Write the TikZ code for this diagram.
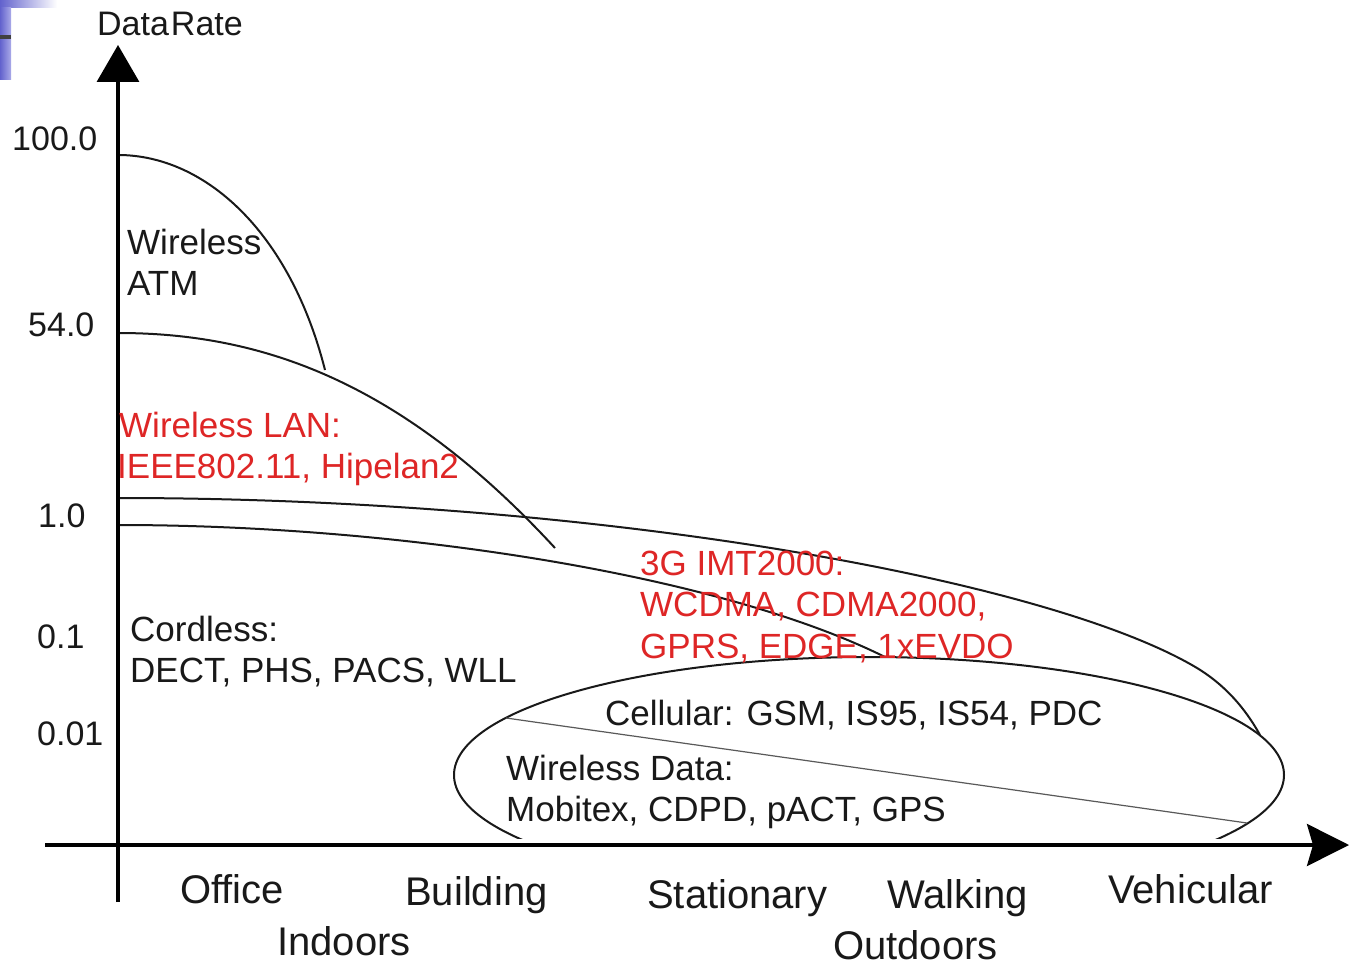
\documentclass[tikz,border=0pt]{standalone}
\usepackage{fontspec}
\setmainfont{Liberation Sans}
\usetikzlibrary{arrows.meta,calc}
\definecolor{labred}{RGB}{222,38,38}
\definecolor{slideA}{RGB}{98,98,205}
\definecolor{slideB}{RGB}{170,170,232}
\definecolor{ink}{RGB}{25,25,25}
\begin{document}
\begin{tikzpicture}[x=1pt,y=-1pt,
  lbl/.style={anchor=base west, inner sep=0pt, text=ink, font=\fontsize{35}{40}\selectfont},
  redlbl/.style={lbl, text=labred},
  ticklbl/.style={anchor=base west, inner sep=0pt, text=ink, font=\fontsize{34}{40}\selectfont},
  catlbl/.style={anchor=base west, inner sep=0pt, text=ink, font=\fontsize{40}{46}\selectfont},
  curve/.style={line width=2pt, draw=ink},
  thinline/.style={line width=1.2pt, draw=black!65},
  axis/.style={line width=3.4pt, draw=black}]
\useasboundingbox (0,0) rectangle (1349,965);
\fill[white] (0,0) rectangle (1349,965);
% slide decoration
\shade[left color=slideA, right color=white] (0,0) rectangle (57,8);
\shade[left color=slideA, right color=slideB] (0,8) rectangle (11,80);
\fill[black!75] (0,35) rectangle (11,39);
% coordinates
\coordinate (ybot) at (118,902);
\coordinate (ytop) at (118,45);
\coordinate (xl) at (45,845);
\coordinate (xr) at (1349,845);
\coordinate (ec) at (869,775);
\coordinate (atmS) at (118,155);
\coordinate (atmE) at (325,370);
\coordinate (lanS) at (118,333);
\coordinate (lanE) at (555,548);
\coordinate (hiS) at (118,498);
\coordinate (hiK) at (1197,668);
\coordinate (hiE) at (1260,735);
\coordinate (loS) at (118,525);
\coordinate (loE) at (885,657);
\coordinate (dA) at (506,718);
\coordinate (dB) at (1247,823);
% curves
\draw[curve] (atmS) .. controls (205,155) and (290,232) .. (atmE);
\draw[curve] (lanS) .. controls (260,333) and (400,380) .. (lanE);
\draw[curve] (hiS) .. controls (600,498) and (1050,580) .. (hiK)
  .. controls (1225,685) and (1245,708) .. (hiE);
\draw[curve] (loS) .. controls (400,525) and (720,575) .. (loE);
\begin{scope}
  \clip (0,0) rectangle (1349,838);
  \draw[curve] (ec) ellipse [x radius=415, y radius=118];
\end{scope}
\draw[thinline] (dA) -- (dB);
% axes
\draw[axis, -{Triangle[length=37pt,width=42pt]}] (ybot) -- (ytop);
\draw[axis, -{Stealth[length=42pt,width=42pt,inset=6pt]}] (xl) -- (xr);
% labels
\node[ticklbl] (ylab) at (97,36) {Data\kern2pt Rate};
\node[ticklbl] (t100) at (12,151) {100.0};
\node[ticklbl] (t54) at (28,337) {54.0};
\node[ticklbl] (t1) at (38,527) {1.0};
\node[ticklbl] (t01) at (37,648) {0.1};
\node[ticklbl] (t001) at (37,745) {0.01};
\node[lbl] (atm1) at (127,255) {Wireless};
\node[lbl] (atm2) at (127,296) {ATM};
\node[redlbl] (lan1) at (119,437) {Wireless LAN:};
\node[redlbl] (lan2) at (117,478) {IEEE802.11, Hipelan2};
\node[lbl] (cl1) at (130,641) {Cordless:};
\node[lbl] (cl2) at (130,682) {DECT, PHS, PACS, WLL};
\node[redlbl] (g1) at (640,575) {3G IMT2000:};
\node[redlbl] (g2) at (640,616) {WCDMA, CDMA2000,};
\node[redlbl] (g3) at (640,658) {GPRS, EDGE, 1xEVDO};
\node[lbl] (cell) at (605,725) {Cellular: GSM, IS95, IS54, PDC};
\node[lbl] (wd1) at (506,780) {Wireless Data:};
\node[lbl] (wd2) at (506,821) {Mobitex, CDPD, pACT, GPS};
\node[catlbl] (office) at (180,903) {Office};
\node[catlbl] (building) at (405,905) {Building};
\node[catlbl] (indoors) at (277,955) {Indoors};
\node[catlbl] (stationary) at (647,908) {Stationary};
\node[catlbl] (walking) at (887,908) {Walking};
\node[catlbl] (vehicular) at (1108,903) {Vehicular};
\node[catlbl] (outdoors) at (833,959) {Outdoors};
\end{tikzpicture}
\end{document}
